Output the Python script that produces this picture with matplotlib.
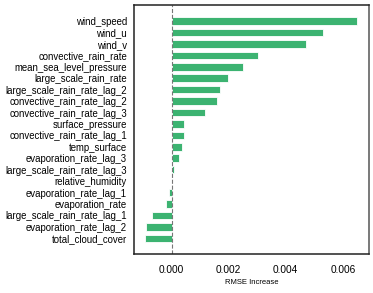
import matplotlib
matplotlib.use('Agg')
import matplotlib.pyplot as plt

plt.rcParams['font.family'] = ['Liberation Sans', 'DejaVu Sans']

features = ['wind_speed', 'wind_u', 'wind_v', 'convective_rain_rate',
            'mean_sea_level_pressure', 'large_scale_rain_rate',
            'large_scale_rain_rate_lag_2', 'convective_rain_rate_lag_2',
            'convective_rain_rate_lag_3', 'surface_pressure',
            'convective_rain_rate_lag_1', 'temp_surface',
            'evaporation_rate_lag_3', 'large_scale_rain_rate_lag_3',
            'relative_humidity', 'evaporation_rate_lag_1', 'evaporation_rate',
            'large_scale_rain_rate_lag_1', 'evaporation_rate_lag_2',
            'total_cloud_cover']
rmse_increase = [0.00651, 0.00531, 0.00470, 0.00304, 0.00250, 0.00199,
                 0.00168, 0.00158, 0.00116, 0.00043, 0.00042, 0.00037,
                 0.00025, 0.00010, 0.0, -0.00010, -0.00019, -0.00068,
                 -0.00089, -0.00095]

fig = plt.figure(figsize=(3.73, 2.93), dpi=100)
ax = fig.add_axes([134/373, 1 - 254/293, (369-134)/373, (254-5)/293])

pos = list(range(len(features)))
ax.barh(pos, rmse_increase, height=0.66, color='#3cb371', edgecolor='white', linewidth=0.6)
ax.axvline(0, color='#777777', linestyle='--', linewidth=0.8)

ax.set_yticks(pos)
ax.set_yticklabels(features, fontsize=6.95)
ax.set_ylim(20.37, -1.4)
ax.set_xlim(-0.00132, 0.00692)
ax.set_xticks([0.0, 0.002, 0.004, 0.006])
ax.set_xticklabels(['0.000', '0.002', '0.004', '0.006'], fontsize=7.3)
ax.tick_params(axis='y', length=0, pad=5)
ax.tick_params(axis='x', length=0, pad=8)
ax.set_xlabel('RMSE Increase', fontsize=5.5, labelpad=3)

for s in ax.spines.values():
    s.set_linewidth(1.1)
    s.set_color('#222222')
ax.spines['right'].set_color('#555555')

fig.savefig('out.png', dpi=100)
